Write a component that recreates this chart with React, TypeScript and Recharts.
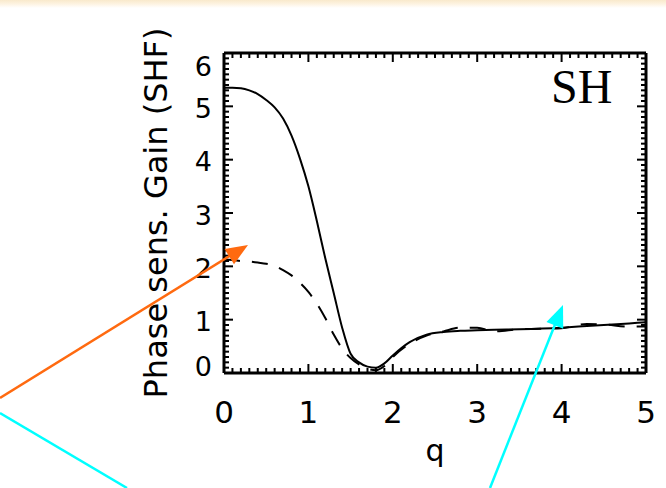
import React from "react";
import { Line, LineChart, XAxis, YAxis } from "recharts";

const qValues = [0, 0.1, 0.2, 0.3, 0.4, 0.5, 0.6, 0.7, 0.8, 0.9, 1.0, 1.1, 1.2, 1.3, 1.4, 1.5, 1.6, 1.7, 1.8, 1.9, 2.0, 2.2, 2.4, 2.6, 2.8, 3.0, 3.2, 3.5, 4.0, 4.3, 4.5, 4.8, 5.0];
const gainSHF = [5.35, 5.35, 5.34, 5.3, 5.23, 5.12, 4.98, 4.77, 4.45, 4.02, 3.5, 2.85, 2.15, 1.5, 0.85, 0.36, 0.2, 0.12, 0.1, 0.18, 0.33, 0.58, 0.72, 0.77, 0.79, 0.8, 0.81, 0.82, 0.85, 0.88, 0.9, 0.93, 0.95];
const phaseSens = [2.13, 2.12, 2.1, 2.09, 2.07, 2.05, 2.01, 1.93, 1.83, 1.69, 1.52, 1.3, 1.03, 0.72, 0.46, 0.28, 0.16, 0.08, 0.05, 0.13, 0.3, 0.55, 0.7, 0.78, 0.85, 0.85, 0.78, 0.82, 0.84, 0.92, 0.91, 0.87, 0.87];

const xTicks = Array.from({ length: 51 }, (_, i) => i / 10);
const yTicks = Array.from({ length: 61 }, (_, i) => i / 10);

const data = qValues.map((q, i) => ({ q, gain: gainSHF[i], phase: phaseSens[i] }));

const FONT = "DejaVu Sans";
const isMajor = (v: number) => Math.abs(v - Math.round(v)) < 1e-6;

// IDL-style inward ticks, long at integers
const BottomTick = (props: any) => {
  const { x, y, payload } = props;
  const v = payload.value;
  const major = isMajor(v);
  return (
    <g>
      <line x1={x} y1={y} x2={x} y2={y - (major ? 9 : 5)} stroke="#000" strokeWidth={2} />
      {major && (
        <text x={x} y={y + 50} textAnchor="middle" fontSize={31} fontFamily={FONT} fill="#000">
          {Math.round(v)}
        </text>
      )}
    </g>
  );
};

const TopTick = (props: any) => {
  const { x, y, payload } = props;
  const major = isMajor(payload.value);
  return <line x1={x} y1={y} x2={x} y2={y + (major ? 9 : 5)} stroke="#000" strokeWidth={2} />;
};

const LeftTick = (props: any) => {
  const { x, y, payload } = props;
  const v = payload.value;
  const major = isMajor(v);
  const cy = Math.min(Math.max(y + 2, 66), 366);
  return (
    <g>
      <line x1={x} y1={y} x2={x + (major ? 9 : 5)} y2={y} stroke="#000" strokeWidth={2} />
      {major && (
        <text x={x - 12} y={cy} dy="0.36em" textAnchor="end" fontSize={27} fontFamily={FONT} fill="#000">
          {Math.round(v)}
        </text>
      )}
    </g>
  );
};

const RightTick = (props: any) => {
  const { x, y, payload } = props;
  const major = isMajor(payload.value);
  return <line x1={x} y1={y} x2={x - (major ? 9 : 5)} y2={y} stroke="#000" strokeWidth={2} />;
};

function arrowHead(x1: number, y1: number, x2: number, y2: number, len = 22, half = 9) {
  const d = Math.hypot(x2 - x1, y2 - y1);
  const ux = (x2 - x1) / d;
  const uy = (y2 - y1) / d;
  const bx = x2 - ux * len;
  const by = y2 - uy * len;
  return `${x2},${y2} ${bx - uy * half},${by + ux * half} ${bx + uy * half},${by - ux * half}`;
}

export default function App() {
  return (
    <div
      style={{
        position: "absolute",
        left: 0,
        top: 0,
        width: 666,
        height: 488,
        background: "linear-gradient(to bottom, #f9e9cc 0px, #fdf3e2 4px, #ffffff 8px)",
        fontFamily: FONT,
      }}
    >
      <LineChart width={666} height={488} data={data} margin={{ top: 52, right: 19, bottom: 0, left: 88 }}>
        <XAxis
          dataKey="q"
          type="number"
          domain={[0, 5]}
          ticks={xTicks}
          interval={0}
          height={115}
          tickSize={0}
          tickMargin={0}
          tickLine={false}
          tick={<BottomTick />}
          axisLine={{ stroke: "#000", strokeWidth: 3 }}
          label={{ value: "q", position: "insideBottom", offset: 27, fontSize: 30, fill: "#000", fontFamily: FONT }}
        />
        <XAxis
          xAxisId="top"
          orientation="top"
          dataKey="q"
          type="number"
          domain={[0, 5]}
          ticks={xTicks}
          interval={0}
          height={1}
          tickSize={0}
          tickMargin={0}
          tickLine={false}
          tick={<TopTick />}
          axisLine={{ stroke: "#000", strokeWidth: 3 }}
        />
        <YAxis
          type="number"
          domain={[0, 6]}
          ticks={yTicks}
          interval={0}
          width={136}
          tickSize={0}
          tickMargin={0}
          tickLine={false}
          tick={<LeftTick />}
          axisLine={{ stroke: "#000", strokeWidth: 3 }}
          label={{ value: "Phase sens. Gain (SHF)", angle: -90, position: "center", fontSize: 32, fill: "#000", fontFamily: FONT }}
        />
        <YAxis
          yAxisId="right"
          orientation="right"
          type="number"
          domain={[0, 6]}
          ticks={yTicks}
          interval={0}
          width={1}
          tickSize={0}
          tickMargin={0}
          tickLine={false}
          tick={<RightTick />}
          axisLine={{ stroke: "#000", strokeWidth: 3 }}
        />
        <Line type="monotone" dataKey="gain" stroke="#000" strokeWidth={2} dot={false} isAnimationActive={false} />
        <Line
          type="monotone"
          dataKey="phase"
          stroke="#000"
          strokeWidth={2}
          strokeDasharray="16 12"
          dot={false}
          isAnimationActive={false}
        />
        <Line xAxisId="top" yAxisId="right" dataKey="gain" stroke="none" dot={false} legendType="none" isAnimationActive={false} />
      </LineChart>
      <svg width={666} height={488} style={{ position: "absolute", left: 0, top: 0, pointerEvents: "none" }}>
        <text x={551} y={103} fontSize={48} fontFamily="Liberation Serif" fill="#000">
          SH
        </text>
        <line x1={0} y1={398} x2={236} y2={252} stroke="#ff6a10" strokeWidth={2.5} />
        <polygon points={arrowHead(0, 398, 248, 245)} fill="#ff6a10" />
        <line x1={0} y1={413} x2={127} y2={488} stroke="#00ffff" strokeWidth={2.5} />
        <line x1={490} y1={488} x2={558} y2={317} stroke="#00ffff" strokeWidth={2.5} />
        <polygon points={arrowHead(490, 488, 563, 305)} fill="#00ffff" />
      </svg>
    </div>
  );
}
